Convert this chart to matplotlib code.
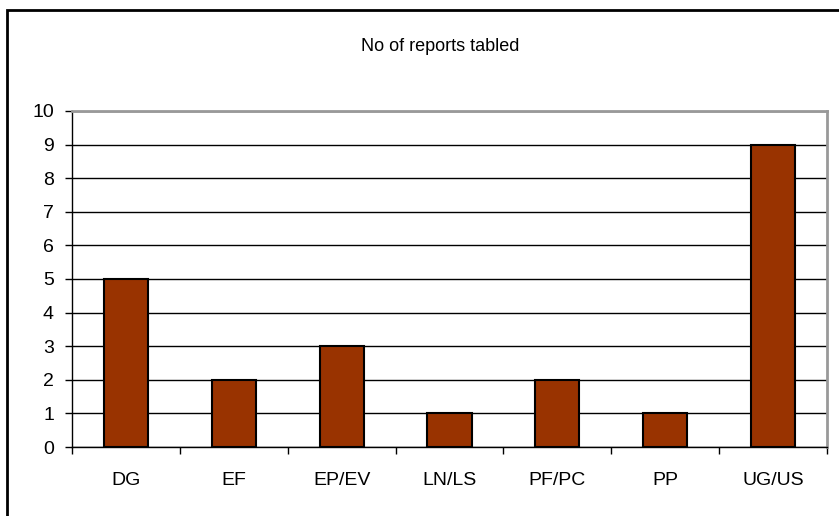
import matplotlib.pyplot as plt
from matplotlib.patches import Rectangle

plt.rcParams["font.family"] = ["Liberation Sans", "DejaVu Sans"]

categories = ["DG", "EF", "EP/EV", "LN/LS", "PF/PC", "PP", "UG/US"]
reports = [5, 2, 3, 1, 2, 1, 9]

W, H = 839, 516
fig = plt.figure(figsize=(W / 100, H / 100), dpi=100)

# outer chart frame (right and bottom edges fall outside the image)
fig.patches.append(
    Rectangle((7 / W, -0.1), 1.2, 1.1 - 10 / H, transform=fig.transFigure,
              fill=False, edgecolor="black", linewidth=2)
)

ax = fig.add_axes([72 / W, 69 / H, (827 - 72) / W, (447 - 111) / H])

x = range(len(categories))
ax.bar(x, reports, width=0.41, color="#993300", edgecolor="black",
       linewidth=1.5, zorder=3)

ax.set_xlim(-0.5, len(categories) - 0.5)
ax.set_ylim(0, 10)
ax.set_yticks(range(0, 11))
ax.yaxis.grid(True, color="black", linewidth=1)
ax.set_axisbelow(True)

ax.set_xticks([i - 0.5 for i in range(len(categories) + 1)])
ax.set_xticklabels([])
ax.set_xticks(list(x), minor=True)
ax.set_xticklabels(categories, minor=True)
ax.tick_params(axis="x", which="major", direction="out", length=5, width=1)
ax.tick_params(axis="x", which="minor", length=0, pad=18, labelsize=14)
ax.tick_params(axis="y", direction="out", length=5, width=1, pad=8,
               labelsize=14)

for side in ["left", "bottom"]:
    ax.spines[side].set_color("black")
    ax.spines[side].set_linewidth(1)
for side in ["top", "right"]:
    ax.spines[side].set_color("#999999")
    ax.spines[side].set_linewidth(2)

fig.text(440 / W, 1 - 47 / H, "No of reports tabled", ha="center",
         va="center", fontsize=13)

fig.savefig("out.png", dpi=100)
